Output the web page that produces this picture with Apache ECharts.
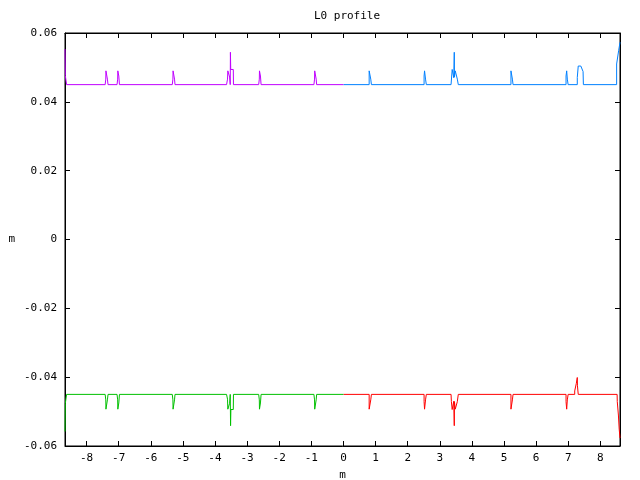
<!DOCTYPE html>
<html><head><meta charset="utf-8">
<script src="https://cdn.jsdelivr.net/npm/echarts@6/dist/echarts.min.js"></script>
<style>html,body{margin:0;padding:0;background:#fff}#c{width:640px;height:480px}</style>
</head><body><div id="c"></div>
<script>
// ---- data ----
const xTicks = [-8,-7,-6,-5,-4,-3,-2,-1,0,1,2,3,4,5,6,7,8];
const yTicks = [-0.06,-0.04,-0.02,0,0.02,0.04,0.06];
const xRange = [-8.67, 8.61];
const yRange = [-0.06, 0.06];

// upper profile, s < 0 (violet)
const violetProfile = [
  [-8.67,0.0553],[-8.66,0.0476],[-8.63,0.0476],[-8.62,0.045],
  [-7.42,0.045],[-7.40,0.0466],[-7.395,0.049],[-7.355,0.049],[-7.35,0.0466],[-7.33,0.045],
  [-7.05,0.045],[-7.03,0.0466],[-7.025,0.049],[-7.0,0.049],[-6.995,0.0475],[-6.98,0.0475],[-6.975,0.045],
  [-5.33,0.045],[-5.31,0.0466],[-5.305,0.049],[-5.265,0.049],[-5.26,0.0466],[-5.245,0.045],
  [-3.64,0.045],[-3.61,0.0466],[-3.60,0.049],[-3.55,0.049],[-3.545,0.0472],[-3.53,0.0472],[-3.525,0.045],
  [-3.52,0.0544],[-3.51,0.0494],[-3.43,0.0494],[-3.425,0.045],
  [-2.64,0.045],[-2.62,0.0466],[-2.615,0.049],[-2.59,0.049],[-2.585,0.0475],[-2.57,0.0475],[-2.565,0.045],
  [-0.92,0.045],[-0.90,0.0466],[-0.895,0.049],[-0.855,0.049],[-0.85,0.0466],[-0.835,0.045],
  [0,0.045]
];
// upper profile, s > 0 (blue)
const blueProfile = [
  [0,0.045],
  [0.80,0.045],[0.80,0.049],[0.845,0.049],[0.85,0.0466],[0.87,0.045],
  [2.51,0.045],[2.51,0.0475],[2.52,0.0475],[2.525,0.049],[2.55,0.049],[2.555,0.0466],[2.58,0.045],
  [3.35,0.045],[3.385,0.0494],[3.43,0.0494],[3.435,0.047],[3.445,0.047],[3.45,0.0544],[3.455,0.0472],
  [3.475,0.0472],[3.48,0.049],[3.535,0.049],[3.545,0.0466],[3.57,0.0466],[3.575,0.045],
  [5.215,0.045],[5.215,0.049],[5.255,0.049],[5.26,0.0466],[5.28,0.045],
  [6.93,0.045],[6.93,0.0475],[6.945,0.0475],[6.95,0.049],[6.965,0.049],[6.97,0.0466],[6.995,0.045],
  [7.28,0.045],[7.28,0.0471],[7.31,0.0504],[7.39,0.0504],[7.46,0.0488],[7.47,0.0488],[7.47,0.045],
  [8.505,0.045],[8.505,0.051],[8.565,0.051],[8.57,0.055],[8.61,0.0573]
];
// lower profile, s < 0 (green)
const greenProfile = [
  [-8.67,-0.0558],[-8.66,-0.0476],[-8.63,-0.0476],[-8.62,-0.045],
  [-7.42,-0.045],[-7.40,-0.0466],[-7.395,-0.0493],[-7.355,-0.0493],[-7.35,-0.0466],[-7.33,-0.045],
  [-7.05,-0.045],[-7.03,-0.0466],[-7.025,-0.0493],[-7.0,-0.0493],[-6.995,-0.0475],[-6.98,-0.0475],[-6.975,-0.045],
  [-5.33,-0.045],[-5.31,-0.0466],[-5.305,-0.0493],[-5.265,-0.0493],[-5.26,-0.0466],[-5.245,-0.045],
  [-3.64,-0.045],[-3.61,-0.0464],[-3.60,-0.0493],[-3.55,-0.0493],[-3.545,-0.0476],[-3.53,-0.0476],[-3.525,-0.045],
  [-3.515,-0.0541],[-3.505,-0.0494],[-3.43,-0.0494],[-3.425,-0.045],
  [-2.64,-0.045],[-2.62,-0.0466],[-2.615,-0.0493],[-2.59,-0.0493],[-2.585,-0.0475],[-2.57,-0.0475],[-2.565,-0.045],
  [-0.92,-0.045],[-0.90,-0.0466],[-0.895,-0.0493],[-0.855,-0.0493],[-0.85,-0.0466],[-0.835,-0.045],
  [0,-0.045]
];
// lower profile, s > 0 (red)
const redProfile = [
  [0,-0.045],
  [0.80,-0.045],[0.80,-0.0493],[0.845,-0.0493],[0.85,-0.0466],[0.87,-0.045],
  [2.51,-0.045],[2.51,-0.0471],[2.52,-0.0471],[2.525,-0.0493],[2.55,-0.0493],[2.555,-0.0466],[2.58,-0.045],
  [3.35,-0.045],[3.36,-0.0471],[3.385,-0.0494],[3.43,-0.0494],[3.435,-0.047],[3.445,-0.047],[3.45,-0.0541],
  [3.455,-0.0471],[3.475,-0.0471],[3.48,-0.0493],[3.535,-0.0493],[3.545,-0.0471],[3.57,-0.0471],[3.575,-0.045],
  [5.215,-0.045],[5.215,-0.0493],[5.255,-0.0493],[5.26,-0.0466],[5.28,-0.045],
  [6.93,-0.045],[6.93,-0.0471],[6.945,-0.0471],[6.95,-0.0493],[6.965,-0.0493],[6.97,-0.0466],[6.995,-0.045],
  [7.20,-0.045],[7.20,-0.044],[7.23,-0.044],[7.25,-0.0418],[7.27,-0.0418],[7.28,-0.0401],
  [7.285,-0.0425],[7.31,-0.0425],[7.31,-0.045],
  [8.52,-0.045],[8.525,-0.0471],[8.555,-0.0471],[8.56,-0.051],[8.58,-0.051],[8.585,-0.0551],[8.61,-0.0577]
];

const FONT = 'DejaVu Sans Mono';
const chart = echarts.init(document.getElementById('c'), null, {renderer:'canvas'});
const fmtY = v => { const r = Math.round(v*100)/100; return r === 0 ? '0' : r.toFixed(2); };
const baseX = {
  type:'value', min:xRange[0], max:xRange[1],
  axisLine:{show:true, onZero:false, lineStyle:{color:'#000', width:1}},
  splitLine:{show:false},
  axisTick:{show:true, inside:true, length:5, lineStyle:{color:'#000'}, customValues:xTicks},
};
const baseY = {
  type:'value', min:yRange[0], max:yRange[1], interval:0.02,
  axisLine:{show:true, onZero:false, lineStyle:{color:'#000', width:1}},
  splitLine:{show:false},
  axisTick:{show:true, inside:true, length:5, lineStyle:{color:'#000'}},
};
function line(data, color){
  return {type:'line', data:data, showSymbol:false, symbol:'none', xAxisIndex:0, yAxisIndex:0,
    lineStyle:{color:color, width:1}, itemStyle:{color:color}, animation:false};
}
chart.setOption({
  animation:false,
  backgroundColor:'#fff',
  title:{text:'L0 profile', left:342, textAlign:'center', top:6,
    textStyle:{fontFamily:FONT, fontSize:11, fontWeight:'normal', color:'#000'}},
  grid:{left:65, right:20, top:33, bottom:34, containLabel:false, outerBoundsMode:'none',
    show:true, borderColor:'#000', borderWidth:1},
  xAxis:[
    Object.assign({}, baseX, {position:'bottom', name:'m', nameLocation:'middle', nameGap:24,
      nameTextStyle:{fontFamily:FONT, fontSize:11, color:'#000'},
      axisLabel:{show:true, margin:7, fontFamily:FONT, fontSize:11, color:'#000', customValues:xTicks,
        formatter: v => String(Math.round(v))}}),
    Object.assign({}, baseX, {position:'top', axisLabel:{show:false}})
  ],
  yAxis:[
    Object.assign({}, baseY, {position:'left', name:'m', nameLocation:'middle', nameGap:50, nameRotate:0,
      nameTextStyle:{fontFamily:FONT, fontSize:11, color:'#000'},
      axisLabel:{show:true, margin:8, fontFamily:FONT, fontSize:11, color:'#000', formatter: fmtY}}),
    Object.assign({}, baseY, {position:'right', axisLabel:{show:false}})
  ],
  series:[
    line(redProfile, '#ff0000'),
    line(greenProfile, '#00c000'),
    line(blueProfile, '#0080ff'),
    line(violetProfile, '#c000ff')
  ]
});
</script></body></html>
